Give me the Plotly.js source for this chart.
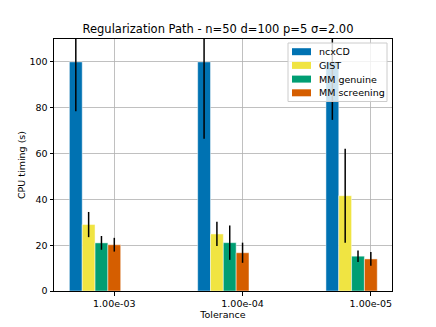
<!DOCTYPE html>
<html>
<head>
<meta charset="utf-8">
<script src="https://cdn.plot.ly/plotly-3.0.1.min.js"></script>
<style>
  html, body { margin: 0; padding: 0; background: #fff; }
  #chart { width: 436px; height: 327px; }
</style>
</head>
<body>
<div id="chart"></div>
<script>
// tolerances (categories on the x axis)
const tolerances = ['1.00e-03', '1.00e-04', '1.00e-05']
const tolPos = [0, 1, 2]

// mean CPU timings and their std (error bars)
const ncxcdMean = [100, 100, 100]
const ncxcdStd = [21.5, 33.5, 25.3]
const gistMean = [29.0, 24.9, 41.6]
const gistStd = [5.5, 5.3, 20.5]
const mmGenuineMean = [21.0, 21.1, 15.2]
const mmGenuineStd = [3.0, 7.5, 2.5]
const mmScreeningMean = [20.2, 16.7, 14.0]
const mmScreeningStd = [3.0, 4.4, 3.0]

const series = [
  { name: 'ncxCD', y: ncxcdMean, err: ncxcdStd, color: '#0072b2' },
  { name: 'GIST', y: gistMean, err: gistStd, color: '#f0e442' },
  { name: 'MM genuine', y: mmGenuineMean, err: mmGenuineStd, color: '#009e73' },
  { name: 'MM screening', y: mmScreeningMean, err: mmScreeningStd, color: '#d55e00' },
]

const barWidth = 0.1

// plot area in pixels (used to place the matplotlib-like legend)
const W = 436, H = 327
const mar = { l: 54, r: 44, t: 39, b: 36 }
const plotW = W - mar.l - mar.r
const plotH = H - mar.t - mar.b
const px = (p) => (p - mar.l) / plotW
const py = (p) => (H - mar.b - p) / plotH

// each method is shifted left, the last one sits on the tick
const traces = series.map((s, i) => ({
  type: 'bar',
  name: s.name,
  x: tolPos,
  y: s.y,
  width: barWidth,
  offset: -0.35 + i * barWidth,
  marker: { color: s.color, line: { color: 'rgba(255,255,255,0.6)', width: 0.8 } },
  error_y: { type: 'data', array: s.err, visible: true, color: '#000', thickness: 1.5, width: 0 },
  showlegend: false,
}))

// legend box, swatches and labels
const legTop = 43, legLeft = 288, legRight = 387, rowH = 13.7, firstRow = 51.7
const shapes = [{
  type: 'rect', xref: 'paper', yref: 'paper',
  x0: px(legLeft), x1: px(legRight),
  y0: py(legTop + 2 * (firstRow - legTop) + rowH * (series.length - 1)), y1: py(legTop),
  fillcolor: 'rgba(255,255,255,0.8)', line: { color: '#cccccc', width: 1 },
}]
const annotations = []
series.forEach((s, i) => {
  const cy = firstRow + i * rowH
  shapes.push({
    type: 'rect', xref: 'paper', yref: 'paper',
    x0: px(292), x1: px(311), y0: py(cy + 3.5), y1: py(cy - 3.5),
    fillcolor: s.color, line: { width: 0 },
  })
  annotations.push({
    xref: 'paper', yref: 'paper', x: px(317), y: py(cy),
    xanchor: 'left', yanchor: 'middle', showarrow: false,
    text: s.name, font: { family: 'DejaVu Sans', size: 9.5, color: '#000' },
  })
})

const axisFont = { family: 'DejaVu Sans', size: 9.5, color: '#000' }

const layout = {
  width: W,
  height: H,
  margin: mar,
  paper_bgcolor: '#fff',
  plot_bgcolor: '#fff',
  font: axisFont,
  barmode: 'overlay',
  showlegend: false,
  title: {
    text: 'Regularization Path - n=50 d=100 p=5 \u03c3=2.00',
    font: { family: 'DejaVu Sans', size: 11.5, color: '#000' },
    x: 0.5, xanchor: 'center', y: 0.91, yanchor: 'middle',
  },
  xaxis: {
    range: [-0.47, 2.165],
    tickvals: tolPos,
    ticktext: tolerances,
    ticks: 'outside', ticklen: 3.5, tickcolor: '#000',
    showgrid: true, gridcolor: '#b0b0b0', gridwidth: 0.8,
    showline: true, linecolor: '#000', linewidth: 1, mirror: true,
    zeroline: false,
    layer: 'above traces',
    title: { text: 'Tolerance', font: axisFont, standoff: 3 },
    tickfont: axisFont,
  },
  yaxis: {
    range: [0, 110],
    tickvals: [0, 20, 40, 60, 80, 100],
    ticks: 'outside', ticklen: 3.5, tickcolor: '#000',
    showgrid: true, gridcolor: '#b0b0b0', gridwidth: 0.8,
    showline: true, linecolor: '#000', linewidth: 1, mirror: true,
    zeroline: false,
    layer: 'above traces',
    title: { text: 'CPU timing (s)', font: axisFont, standoff: 2 },
    tickfont: axisFont,
  },
  shapes: shapes,
  annotations: annotations,
}

Plotly.newPlot('chart', traces, layout, { displayModeBar: false, staticPlot: true })
</script>
</body>
</html>
